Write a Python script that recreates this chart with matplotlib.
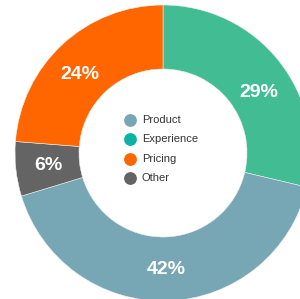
import matplotlib
matplotlib.use("Agg")
import matplotlib.pyplot as plt
import numpy as np

plt.rcParams['font.family'] = ['Liberation Sans', 'DejaVu Sans']

# data (clockwise from top)
slice_labels = ["Experience", "Product", "Other", "Pricing"]
slice_values = [29, 42, 6, 24]
slice_colors = ["#42bc93", "#77a7b4", "#646464", "#ff6600"]

legend_labels = ["Product", "Experience", "Pricing", "Other"]
legend_colors = ["#77a7b4", "#0bb3a4", "#ff6600", "#646464"]

W, H = 300, 299
fig = plt.figure(figsize=(W / 100, H / 100), dpi=100)
ax = fig.add_axes([0, 0, 1, 1])

cx, cy = 163, H - 153
R, r = 148, 84
wedges, _ = ax.pie(slice_values, colors=slice_colors, startangle=90, counterclock=False,
                   radius=R, center=(cx, cy), frame=True,
                   wedgeprops=dict(width=R - r, linewidth=0.4, edgecolor='#eeeeee'))
ax.set_xlim(0, W)
ax.set_ylim(0, H)
ax.set_aspect('equal')
ax.axis('off')

# percentage labels
nudges = {0: (6, -11), 1: (0, -1.5), 2: (0, 0), 3: (-5, -6)}
for i, w in enumerate(wedges):
    ang = np.deg2rad((w.theta1 + w.theta2) / 2)
    lr = 115
    x = cx + lr * np.cos(ang) + nudges[i][0]
    y = cy + lr * np.sin(ang) + nudges[i][1]
    ax.text(x, y, f"{slice_values[i]}%", color='white', fontsize=14, fontweight='bold',
            ha='center', va='center')

# legend
ly0 = H - 120
for j, (lab, col) in enumerate(zip(legend_labels, legend_colors)):
    y = ly0 - j * 19.3
    ax.scatter([130], [y], s=85, color=col, linewidths=0, zorder=5)
    ax.text(142, y, lab, fontsize=8, color='#333333', ha='left', va='center')

fig.savefig("out.png", dpi=100)
